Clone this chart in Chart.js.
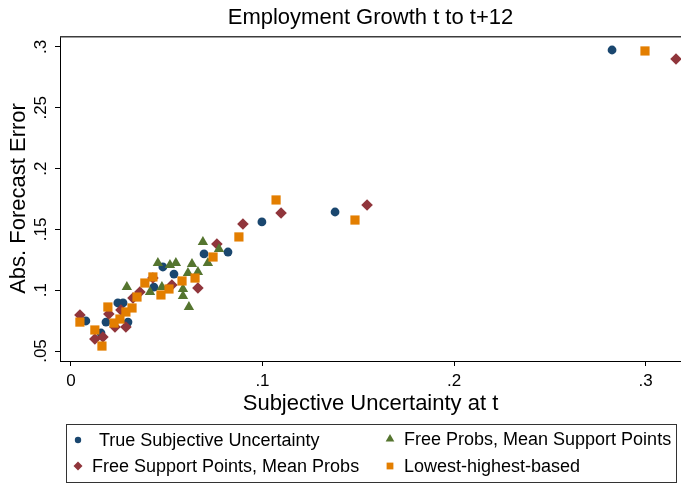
<!DOCTYPE html>
<html>
<head>
<meta charset="utf-8">
<script src="https://cdn.jsdelivr.net/npm/chart.js@4"></script>
<style>
  html, body { margin: 0; padding: 0; background: #fff; }
  #wrap { width: 681px; height: 485px; }
</style>
</head>
<body>
<div id="wrap"><canvas id="chart_main" width="681" height="485"></canvas></div>
<script>
// values
const series_labels = [
  'True Subjective Uncertainty',
  'Free Support Points, Mean Probs',
  'Free Probs, Mean Support Points',
  'Lowest-highest-based'
]

// True Subjective Uncertainty
const true_x = [0.0078, 0.0183, 0.0157, 0.0245, 0.0272, 0.0298, 0.0433, 0.0480, 0.0538, 0.0695, 0.0820, 0.0997, 0.1379, 0.2825]
const true_y = [0.0747, 0.0738, 0.0648, 0.0895, 0.0895, 0.0738, 0.1026, 0.1191, 0.1133, 0.1298, 0.1314, 0.1561, 0.1643, 0.2975]

// Free Support Points, Mean Probs
const fsp_x = [0.0047, 0.0125, 0.0167, 0.0198, 0.0230, 0.0261, 0.0287, 0.0324, 0.0360, 0.0428, 0.0527, 0.0663, 0.0762, 0.0898, 0.1097, 0.1546, 0.3159]
const fsp_y = [0.0796, 0.0599, 0.0615, 0.0804, 0.0697, 0.0837, 0.0697, 0.0936, 0.0985, 0.1100, 0.1043, 0.1018, 0.1380, 0.1544, 0.1635, 0.1701, 0.2901]

// Free Probs, Mean Support Points
const fp_x = [0.0292, 0.0413, 0.0454, 0.0475, 0.0517, 0.0548, 0.0585, 0.0585, 0.0611, 0.0616, 0.0632, 0.0663, 0.0689, 0.0715, 0.0773]
const fp_y = [0.1026, 0.0985, 0.1224, 0.1026, 0.1207, 0.1224, 0.1010, 0.0952, 0.1141, 0.0862, 0.1215, 0.1150, 0.1396, 0.1224, 0.1339]

// Lowest-highest-based
const lh_x = [0.0047, 0.0125, 0.0162, 0.0193, 0.0225, 0.0256, 0.0287, 0.0319, 0.0345, 0.0386, 0.0428, 0.0470, 0.0512, 0.0580, 0.0648, 0.0742, 0.0877, 0.1071, 0.1483, 0.2997]
const lh_y = [0.0738, 0.0673, 0.0541, 0.0862, 0.0730, 0.0763, 0.0821, 0.0854, 0.0944, 0.1059, 0.1109, 0.0961, 0.1010, 0.1076, 0.1100, 0.1273, 0.1438, 0.1742, 0.1577, 0.2967]

const x_tick_vals = [0, 0.1, 0.2, 0.3]
const x_tick_labels = ['0', '.1', '.2', '.3']
const y_tick_vals = [0.05, 0.1, 0.15, 0.2, 0.25, 0.3]
const y_tick_labels = ['.05', '.1', '.15', '.2', '.25', '.3']

const title_text = 'Employment Growth t to t+12'
const x_title = 'Subjective Uncertainty at t'
const y_title = 'Abs. Forecast Error'

const FONT = '"Liberation Sans", Arial, Helvetica, sans-serif'
const NAVY = '#1a476f', MAROON = '#90353b', FOREST = '#55752f', ORANGE = '#e37e00'

function pts(xs, ys){
  return xs.map((x, i) => ({x: x, y: ys[i]}))
}

// title, top frame line and the boxed two-column legend
const decor = {
  id: 'decor',
  afterDraw(chart){
    const ctx = chart.ctx
    const a = chart.chartArea
    ctx.save()

    ctx.strokeStyle = '#3c3c3c'
    ctx.lineWidth = 1.5
    ctx.beginPath()
    ctx.moveTo(a.left, a.top + 0.75)
    ctx.lineTo(a.right, a.top + 0.75)
    ctx.stroke()

    ctx.fillStyle = '#000'
    ctx.font = '22px ' + FONT
    ctx.textAlign = 'center'
    ctx.textBaseline = 'middle'
    ctx.fillText(title_text, (a.left + a.right) / 2, 18)

    // legend box
    ctx.strokeStyle = '#333'
    ctx.lineWidth = 1
    ctx.strokeRect(66.5, 424.5, 610, 58)

    const items = [
      {ds: 0, mx: 78, y: 440, tx: 99, r: 3.2},
      {ds: 2, mx: 390, y: 439, tx: 404, r: 5},
      {ds: 1, mx: 78, y: 466, tx: 92, r: 4.5},
      {ds: 3, mx: 390, y: 466, tx: 404, r: 4.8}
    ]
    ctx.font = '18px ' + FONT
    ctx.textAlign = 'left'
    items.forEach(it => {
      const ds = chart.data.datasets[it.ds]
      ctx.fillStyle = ds.backgroundColor
      ctx.strokeStyle = ds.backgroundColor
      Chart.helpers.drawPoint(ctx, {pointStyle: ds.pointStyle, radius: it.r, rotation: 0, borderWidth: 0}, it.mx, it.y)
      ctx.fillStyle = '#000'
      ctx.fillText(ds.label, it.tx, it.y + 1)
    })
    ctx.restore()
  }
}

const tickGrid = {display: true, drawOnChartArea: false, drawTicks: true, tickLength: 5, color: '#000', lineWidth: 1}

new Chart(document.getElementById('chart_main'), {
  type: 'scatter',
  data: {
    datasets: [
      {label: series_labels[0], data: pts(true_x, true_y), pointStyle: 'circle', pointRadius: 4.4,
        backgroundColor: NAVY, borderColor: NAVY, pointBorderWidth: 0, order: 4},
      {label: series_labels[1], data: pts(fsp_x, fsp_y), pointStyle: 'rectRot', pointRadius: 5.8,
        backgroundColor: MAROON, borderColor: MAROON, pointBorderWidth: 0, order: 3},
      {label: series_labels[2], data: pts(fp_x, fp_y), pointStyle: 'triangle', pointRadius: 6,
        backgroundColor: FOREST, borderColor: FOREST, pointBorderWidth: 0, order: 2},
      {label: series_labels[3], data: pts(lh_x, lh_y), pointStyle: 'rect', pointRadius: 6.5,
        backgroundColor: ORANGE, borderColor: ORANGE, pointBorderWidth: 0, order: 1}
    ]
  },
  options: {
    responsive: false,
    animation: false,
    devicePixelRatio: 1,
    // no auto padding for the point radius, the plot runs to the right edge
    layout: {autoPadding: false, padding: {top: 36, right: 0, bottom: 68, left: 0}},
    plugins: {legend: {display: false}, title: {display: false}, tooltip: {enabled: false}},
    scales: {
      x: {
        type: 'linear', position: 'bottom', min: -0.0057, max: 0.3185,
        afterBuildTicks: s => { s.ticks = x_tick_vals.map(v => ({value: v})) },
        afterFit: s => { s.height = 56; s.paddingLeft = 0; s.paddingRight = 0 },
        grid: tickGrid,
        border: {display: true, color: '#000', width: 1},
        ticks: {color: '#000', font: {size: 17, family: FONT}, padding: 5, maxRotation: 0, autoSkip: false,
          callback: (v, i) => x_tick_labels[i]},
        title: {display: true, text: x_title, color: '#000', font: {size: 22, family: FONT}, padding: {top: 0, bottom: 0}}
      },
      y: {
        type: 'linear', position: 'left', min: 0.0418, max: 0.309,
        afterBuildTicks: s => { s.ticks = y_tick_vals.map(v => ({value: v})) },
        afterFit: s => { s.width = 60; s.paddingTop = 0; s.paddingBottom = 0 },
        grid: tickGrid,
        border: {display: true, color: '#000', width: 1},
        ticks: {color: '#000', font: {size: 17, family: FONT}, padding: 2, minRotation: 90, maxRotation: 90,
          crossAlign: 'center', autoSkip: false, callback: (v, i) => y_tick_labels[i]},
        title: {display: true, text: y_title, color: '#000', font: {size: 22, family: FONT}, padding: {top: 6, bottom: 0}}
      }
    }
  },
  plugins: [decor]
})
</script>
</body>
</html>
